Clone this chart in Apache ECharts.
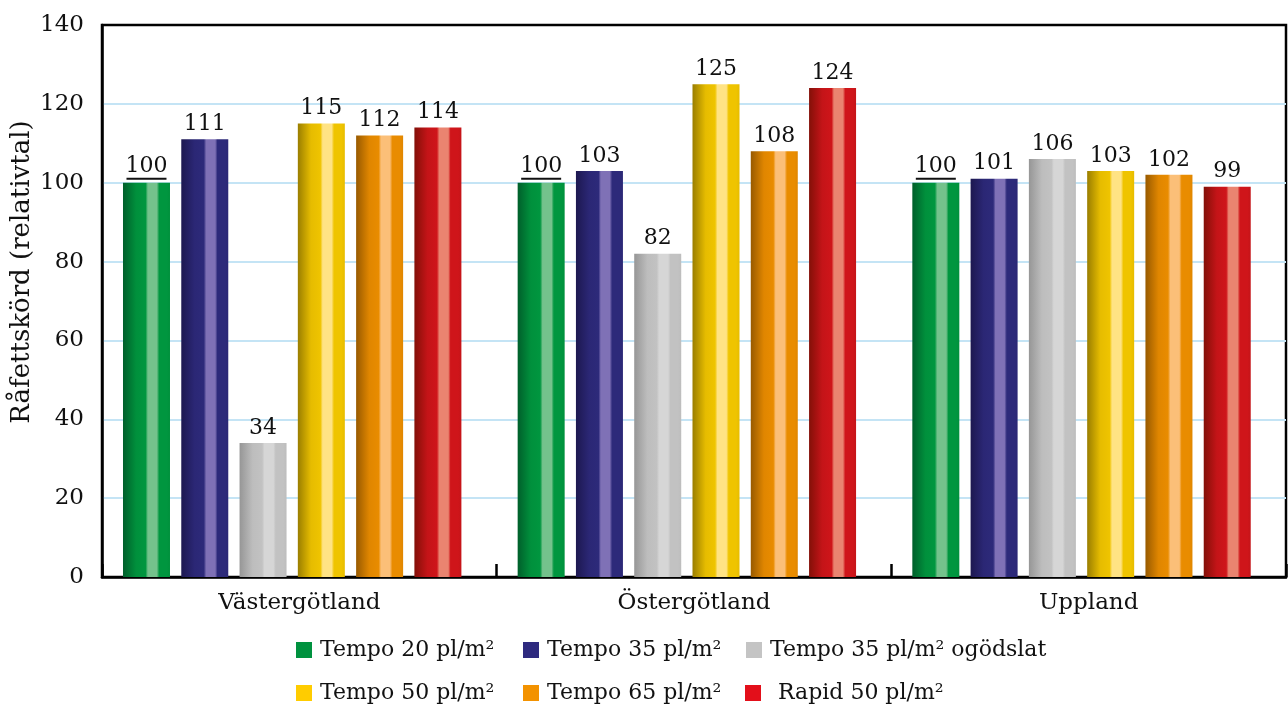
<!DOCTYPE html>
<html>
<head>
<meta charset="utf-8">
<script src="https://cdn.jsdelivr.net/npm/echarts@6/dist/echarts.min.js"></script>
<style>
html,body{margin:0;padding:0;background:#fff;}
#chart{width:1288px;height:704px;}
</style>
</head>
<body>
<div id="chart"></div>
<script>
const categories = ['Västergötland', 'Östergötland', 'Uppland'];
const seriesNames = ['Tempo 20 pl/m²', 'Tempo 35 pl/m²', 'Tempo 35 pl/m² ogödslat', 'Tempo 50 pl/m²', 'Tempo 65 pl/m²', 'Rapid 50 pl/m²'];
const tempo20 = [100, 100, 100];
const tempo35 = [111, 103, 101];
const tempo35ogodslat = [34, 82, 106];
const tempo50 = [115, 125, 103];
const tempo65 = [112, 108, 102];
const rapid50 = [114, 124, 99];
const yTicks = [0, 20, 40, 60, 80, 100, 120, 140];
const yTitle = 'Råfettskörd (relativtal)';

const seriesData = [tempo20, tempo35, tempo35ogodslat, tempo50, tempo65, rapid50];
const solidColors = ['#00923f', '#2e2a7f', '#c4c4c4', '#ffcc00', '#f39200', '#e30f1a'];
const gradColors = [
  ['#005f2b', '#00903c', '#74c28c', '#00963f'],
  ['#1d1850', '#2b2775', '#7f71b6', '#2d2a7a'],
  ['#969696', '#bdbdbd', '#d6d6d6', '#c2c2c2'],
  ['#9a7e00', '#e6bc00', '#ffe384', '#efc400'],
  ['#985a00', '#e08600', '#fbbf78', '#e98c00'],
  ['#831008', '#c41418', '#ea8470', '#cf151a']
];
function grad(c) {
  return new echarts.graphic.LinearGradient(0, 0, 1, 0, [
    {offset: 0, color: c[0]},
    {offset: 0.28, color: c[1]},
    {offset: 0.48, color: c[3]},
    {offset: 0.53, color: c[2]},
    {offset: 0.72, color: c[2]},
    {offset: 0.77, color: c[3]},
    {offset: 0.93, color: c[3]},
    {offset: 1, color: c[1]}
  ]);
}

const FONT = 'DejaVu Serif';
const series = seriesNames.map((name, i) => {
  const s = {
    name: name,
    type: 'bar',
    data: seriesData[i],
    barWidth: 47,
    barGap: '24%',
    itemStyle: {color: grad(gradColors[i])},
    label: {
      show: true,
      position: 'top',
      distance: 4,
      fontFamily: FONT,
      fontSize: 22,
      color: '#111'
    }
  };
  if (i === 0) {
    s.label.formatter = '{a|{c}}\n{u| }';
    s.label.distance = 3;
    s.label.rich = {
      a: {fontFamily: FONT, fontSize: 22, color: '#111', lineHeight: 22},
      u: {width: 40, height: 2, lineHeight: 2, fontSize: 1, backgroundColor: '#111'}
    };
  }
  return s;
});
// spacer series (no data) to shift bar groups slightly left as in the original
series.push({name: 'spacer', type: 'bar', data: [null, null, null], barWidth: 3, silent: true, label: {show: false}});

const legendPos = [
  {left: 296, top: 639}, {left: 523, top: 639}, {left: 746, top: 639},
  {left: 296, top: 682}, {left: 523, top: 682}, {left: 745, top: 682}
];
const legends = seriesNames.map((name, i) => ({
  data: [{name: name, itemStyle: {color: solidColors[i]}}],
  left: legendPos[i].left,
  top: legendPos[i].top,
  padding: 0,
  icon: 'rect',
  itemWidth: 16,
  itemHeight: 16,
  selectedMode: false,
  textStyle: {fontFamily: FONT, fontSize: 22, color: '#111', padding: [0, 0, 0, i === 5 ? 12 : 3]}
}));

const chart = echarts.init(document.getElementById('chart'));
chart.setOption({
  backgroundColor: '#fff',
  animation: false,
  grid: {left: 102, top: 25, right: 2, bottom: 127, show: true, borderColor: '#000', borderWidth: 2.5, backgroundColor: 'transparent'},
  legend: legends,
  xAxis: {
    type: 'category',
    data: categories,
    axisLine: {lineStyle: {color: '#000', width: 2.5}},
    axisTick: {show: true, inside: true, length: 13, lineStyle: {color: '#000', width: 2.5}},
    axisLabel: {fontFamily: FONT, fontSize: 23, color: '#111', margin: 15}
  },
  yAxis: {
    type: 'value',
    min: 0, max: 140, interval: 20,
    axisLine: {show: true, lineStyle: {color: '#000', width: 2.5}},
    axisTick: {show: false},
    axisLabel: {fontFamily: FONT, fontSize: 23, color: '#111', margin: 18,
      formatter: v => yTicks.indexOf(v) >= 0 ? String(v) : ''},
    splitLine: {showMaxLine: false, showMinLine: false, lineStyle: {color: '#c4e4f5', width: 2}}
  },
  graphic: [{
    type: 'text',
    x: 22, y: 272,
    rotation: Math.PI / 2,
    style: {text: yTitle, fontFamily: FONT, fontSize: 26, fill: '#111', align: 'center', verticalAlign: 'middle'}
  }],
  series: series
});
</script>
</body>
</html>
